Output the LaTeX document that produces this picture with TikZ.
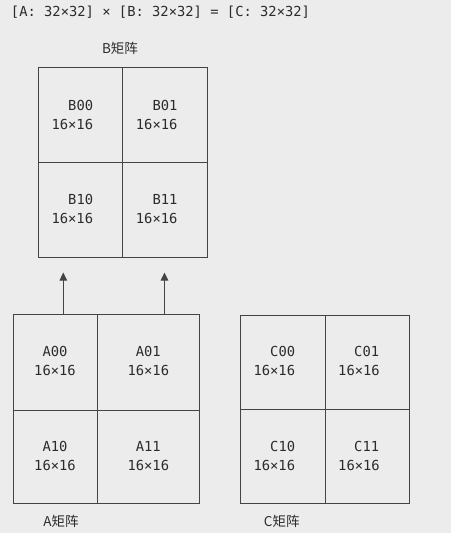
\documentclass[tikz,border=0pt]{standalone}
\usepackage{fontspec}
\newfontfamily\monof{DejaVu Sans Mono}
\newfontfamily\cjkf{Noto Sans CJK SC}
\usetikzlibrary{arrows.meta}
\definecolor{bg}{HTML}{ECECEC}
\definecolor{ink}{HTML}{2B2B2B}
\definecolor{edge}{HTML}{444444}
\tikzset{
  cell/.style={draw=edge, line width=1pt, inner sep=0pt, outer sep=0pt, rectangle},
  lbl/.style={text=ink, font=\monof\fontsize{13.8}{16}\selectfont, inner sep=0pt},
  captxt/.style={text=ink, font=\cjkf\fontsize{13.5}{16}\selectfont, inner sep=0pt},
  arr/.style={draw=edge, line width=1pt, -{Triangle[length=8pt,width=7.5pt]}}
}
\begin{document}
\begin{tikzpicture}[x=1pt,y=-1pt]
\fill[bg] (0,0) rectangle (451,533);
\useasboundingbox (0,0) rectangle (451,533);
% title
\node[lbl] (title) at (160.5,11.7) {[A: 32×32] × [B: 32×32] = [C: 32×32]};
% B matrix
\node[captxt] (bcap) at (120,48.5) {B矩阵};
\node[cell, minimum width=84pt, minimum height=95pt] (B00) at (80.3,115.2) {};
\node[cell, minimum width=84.7pt, minimum height=95pt] (B01) at (164.65,115.2) {};
\node[cell, minimum width=84pt, minimum height=94.3pt] (B10) at (80.3,209.85) {};
\node[cell, minimum width=84.7pt, minimum height=94.3pt] (B11) at (164.65,209.85) {};
\node[lbl] (tB00) at (80.7,105) {B00};
\node[lbl] (sB00) at (72.3,124) {16×16};
\node[lbl] (tB01) at (165,105) {B01};
\node[lbl] (sB01) at (156.7,124) {16×16};
\node[lbl] (tB10) at (80.7,199.3) {B10};
\node[lbl] (sB10) at (72.3,218.3) {16×16};
\node[lbl] (tB11) at (165,199.3) {B11};
\node[lbl] (sB11) at (156.7,218.3) {16×16};
% A matrix
\node[cell, minimum width=84pt, minimum height=95.7pt] (A00) at (55.3,362.15) {};
\node[cell, minimum width=101.7pt, minimum height=95.7pt] (A01) at (148.15,362.15) {};
\node[cell, minimum width=84pt, minimum height=93.7pt] (A10) at (55.3,456.85) {};
\node[cell, minimum width=101.7pt, minimum height=93.7pt] (A11) at (148.15,456.85) {};
\node[lbl] (tA00) at (55,351.7) {A00};
\node[lbl] (sA00) at (55,370.7) {16×16};
\node[lbl] (tA01) at (148.3,351.7) {A01};
\node[lbl] (sA01) at (148.3,370.7) {16×16};
\node[lbl] (tA10) at (55,446.3) {A10};
\node[lbl] (sA10) at (55,465) {16×16};
\node[lbl] (tA11) at (148.3,446.3) {A11};
\node[lbl] (sA11) at (148.3,465) {16×16};
\node[captxt] (acap) at (61,521.7) {A矩阵};
% C matrix
\node[cell, minimum width=84.3pt, minimum height=94.3pt] (C00) at (282.85,362.15) {};
\node[cell, minimum width=84.3pt, minimum height=94.3pt] (C01) at (367.15,362.15) {};
\node[cell, minimum width=84.3pt, minimum height=94pt] (C10) at (282.85,456.3) {};
\node[cell, minimum width=84.3pt, minimum height=94pt] (C11) at (367.15,456.3) {};
\node[lbl] (tC00) at (282.7,351.7) {C00};
\node[lbl] (sC00) at (274.3,370.7) {16×16};
\node[lbl] (tC01) at (366.7,351.7) {C01};
\node[lbl] (sC01) at (359,370.7) {16×16};
\node[lbl] (tC10) at (282.7,446.7) {C10};
\node[lbl] (sC10) at (274.3,465) {16×16};
\node[lbl] (tC11) at (366.7,446.7) {C11};
\node[lbl] (sC11) at (359,465) {16×16};
\node[captxt] (ccap) at (281.7,521.7) {C矩阵};
% arrows
\coordinate (a1s) at (63.3,314.3);
\coordinate (a1e) at (63.3,272.5);
\coordinate (a2s) at (164.5,314.3);
\coordinate (a2e) at (164.5,272.5);
\draw[arr] (a1s) -- (a1e);
\draw[arr] (a2s) -- (a2e);
\end{tikzpicture}
\end{document}
